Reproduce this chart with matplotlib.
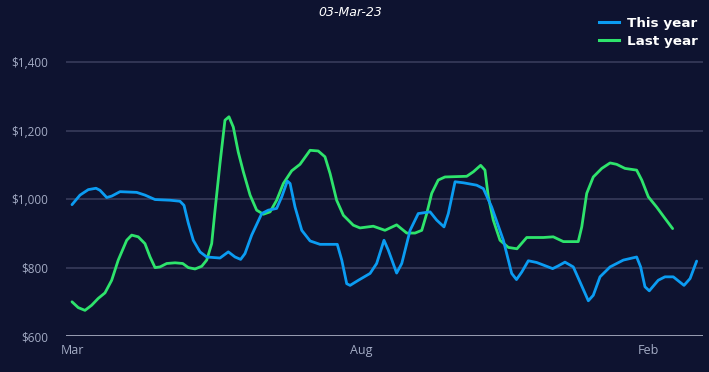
import matplotlib
matplotlib.use("Agg")
import matplotlib.pyplot as plt
from matplotlib.lines import Line2D

# ---- data (x = day index from start of Mar, y = dollars) ----
this_days = [0, 5, 10.2, 15, 17.5, 21.7, 24.8, 30, 40.4, 45.6, 51.9, 61.3, 67.5, 70, 72.7,
             75.8, 80, 84.2, 92.5, 97.7, 101.9, 105.4, 108.1, 112.3, 118.6, 122.7, 127.9,
             131.1, 134.6, 136.3, 139.4, 143.6, 148.8, 155, 165.8, 168.6, 171.7, 173.8, 179,
             186.3, 190.4, 195, 197.7, 202.9, 206.1, 211.3, 216.4, 223.8, 227.9, 232.5, 235.2,
             239.4, 244.6, 252.9, 257.1, 262.3, 269.6, 274.8, 277.8, 281.1, 285.2, 290.4,
             300.4, 303.9, 308.1, 313.3, 317.5, 322.7, 325.8, 330, 336.3, 344.6, 352.9, 355.4,
             358.1, 360.8, 366.4, 370.6, 375.8, 382.5, 386.3, 390.4]
this_year = [984, 1012, 1028, 1032, 1026, 1005, 1009, 1022, 1020, 1012, 999, 997, 994, 982, 930,
             880, 846, 831, 828, 846, 831, 824, 841, 895, 958, 968, 973,
             1007, 1053, 1046, 977, 909, 878, 868, 868, 822, 753, 748, 763,
             783, 812, 880, 851, 784, 812, 909, 958, 963, 939, 919, 958,
             1051, 1048, 1041, 1031, 977, 880, 783, 765, 787, 820, 815,
             797, 805, 816, 802, 758, 703, 719, 773, 802, 822, 831, 802,
             744, 732, 763, 773, 773, 748, 768, 819]

last_days = [0, 3.9, 8.1, 12.3, 16.4, 20.6, 24.8, 28.9, 34.2, 37.3, 41.4, 45.6, 48.8, 51.9, 55,
             59.2, 64.4, 69.2, 72.7, 76.9, 81.1, 84.2, 87.3, 89.4, 92.5, 95.6, 98.1, 100.8,
             103.9, 107.1, 111.3, 115.4, 119.6, 123.8, 127.9, 132.1, 137.3, 142.5, 148.8,
             153.9, 158.1, 161.3, 165.4, 169.6, 175.8, 180, 188.3, 195.6, 202.9, 209.2, 214.4,
             218.6, 221.7, 224.8, 228.9, 233.1, 246.7, 250.8, 255.4, 258.1, 260.2, 263.3,
             267.5, 272.7, 278.1, 284.2, 294.6, 300.8, 307.1, 316.4, 318.6, 321.7, 325.8,
             331.1, 336.3, 340.4, 345.6, 352.9, 356.1, 360.2, 365.4, 370.6, 375.4]
last_year = [700, 683, 675, 690, 710, 726, 763, 822, 880, 895, 890, 870, 831, 800, 802,
             812, 814, 812, 800, 796, 804, 822, 870, 968, 1105, 1231, 1241, 1211,
             1138, 1080, 1012, 968, 956, 963, 997, 1046, 1083, 1102, 1143,
             1141, 1124, 1075, 997, 953, 924, 916, 921, 909, 925, 901, 901,
             909, 958, 1017, 1056, 1065, 1067, 1080, 1099, 1085, 1007, 939,
             880, 859, 855, 888, 888, 890, 876, 876, 919, 1017, 1065,
             1090, 1106, 1102, 1090, 1085, 1056, 1007, 977, 944, 914]

tick_pos = [0, 180.6, 360]
tick_labels = ["Mar", "Aug", "Feb"]
y_ticks = [600, 800, 1000, 1200, 1400]
series_names = ["This year", "Last year"]
title = "03-Mar-23"

# ---- style ----
BG = "#0e1330"
BLUE = "#0b9cf2"
GREEN = "#2ee46c"
TICK = "#a3abc4"
GRID = "#3b3f5e"

W, H = 709, 372
fig = plt.figure(figsize=(W / 100, H / 100), dpi=100, facecolor=BG)
ax = fig.add_axes([66 / W, (H - 336) / H, (703 - 66) / W, (336 - 20) / H])
ax.set_facecolor(BG)

px_per_day = 1.6
ax.set_xlim(-6 / px_per_day, (703 - 72) / px_per_day)
ax.set_ylim(600, 600 + 316 * 200 / 68.4)

for v in y_ticks[1:]:
    ax.axhline(v, color=GRID, lw=1.1, zorder=1)
ax.axhline(600, color="#c3c7da", lw=1.8, zorder=1)

ax.plot(this_days, this_year, color=BLUE, lw=2.0, solid_joinstyle="round",
        solid_capstyle="round", zorder=3)
ax.plot(last_days, last_year, color=GREEN, lw=2.0, solid_joinstyle="round",
        solid_capstyle="round", zorder=2)

for s in ax.spines.values():
    s.set_visible(False)

ax.set_yticks(y_ticks)
ax.set_yticklabels([f"${v:,}" for v in y_ticks], fontfamily="Open Sans", fontsize=8.5, color=TICK)
ax.set_xticks(tick_pos)
ax.set_xticklabels(tick_labels, fontfamily="Open Sans", fontsize=9, color=TICK)
ax.tick_params(axis="y", length=0, pad=13)
ax.tick_params(axis="x", length=0, pad=6)

fig.text(350 / W, 1 - 12 / H, title, ha="center", va="center", color="white",
         fontsize=9, style="italic", family="DejaVu Sans")

handles = [Line2D([], [], color=BLUE, lw=2.2), Line2D([], [], color=GREEN, lw=2.2)]
leg = fig.legend(handles, series_names, loc="upper right", bbox_to_anchor=(1 + 1 / W, 1 - 5 / H),
                 frameon=False, handlelength=1.5, handletextpad=0.6, labelspacing=0.35,
                 prop={"family": "DejaVu Sans", "weight": "bold", "size": 9.7})
for t in leg.get_texts():
    t.set_color("white")

fig.savefig("out.png", dpi=100, facecolor=BG)
